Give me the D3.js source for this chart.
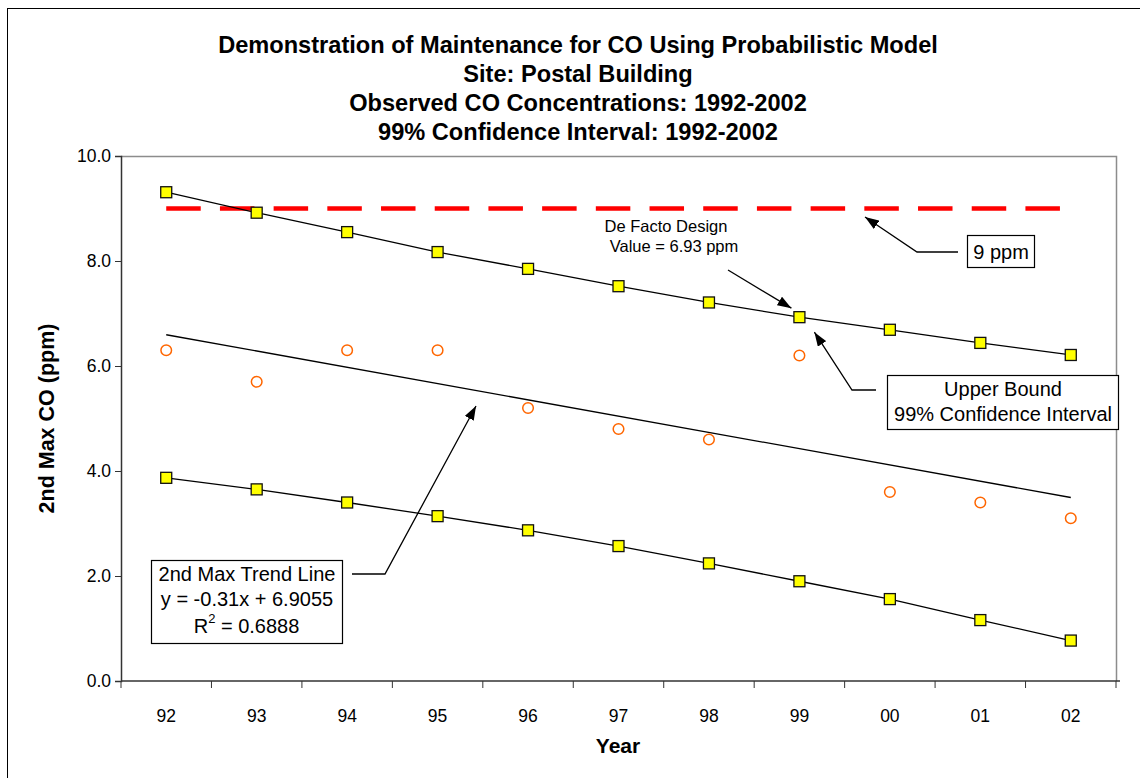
<!DOCTYPE html>
<html>
<head>
<meta charset="utf-8">
<script src="https://cdn.jsdelivr.net/npm/d3@7"></script>
<style>
  html, body { margin: 0; padding: 0; background: #fff; }
  svg { display: block; font-family: "Liberation Sans", Arial, sans-serif; }
</style>
</head>
<body>
<svg id="chart" width="1140" height="778"></svg>
<script>
// ---- data ----
const years = ["92", "93", "94", "95", "96", "97", "98", "99", "00", "01", "02"];
const observed = [6.3, 5.7, 6.3, 6.3, 5.2, 4.8, 4.6, 6.2, 3.6, 3.4, 3.1];
const upperBound = [9.31, 8.92, 8.55, 8.17, 7.85, 7.52, 7.21, 6.93, 6.69, 6.44, 6.21];
const lowerBound = [3.87, 3.65, 3.40, 3.14, 2.87, 2.57, 2.24, 1.90, 1.56, 1.16, 0.77];
const standardLevel = [9, 9];            // 9 ppm NAAQS, first and last year
const trendCoef = [-0.31, 6.9055];       // slope, intercept (x = 1..11)
const yTicks = [0, 2, 4, 6, 8, 10];
const titleLines = [
  "Demonstration of Maintenance for CO Using Probabilistic Model",
  "Site: Postal Building",
  "Observed CO Concentrations: 1992-2002",
  "99% Confidence Interval: 1992-2002"
];

// ---- layout ----
const svg = d3.select("#chart");
const L = 121, R = 1116, T = 156, B = 681;
const x = d3.scaleBand().domain(years).range([L, R]);
const bw = x.bandwidth();
const cx = d => x(d) + bw / 2;
const y = d3.scaleLinear().domain([0, 10]).range([B, T]);

// outer chart border (extends beyond picture)
svg.append("rect").attr("x", 7.5).attr("y", 8.5).attr("width", 1200).attr("height", 900)
  .attr("fill", "none").attr("stroke", "#000").attr("stroke-width", 1);

// arrow marker
const defs = svg.append("defs");
defs.append("marker").attr("id", "arrow").attr("viewBox", "0 0 14 10")
  .attr("refX", 14).attr("refY", 5).attr("markerWidth", 14).attr("markerHeight", 10)
  .attr("markerUnits", "userSpaceOnUse").attr("orient", "auto")
  .append("path").attr("d", "M0,0 L14,5 L0,10 Z").attr("fill", "#000");

// title
svg.append("g").selectAll("text").data(titleLines).join("text")
  .attr("x", 578).attr("y", (d, i) => 45 + i * 29)
  .attr("text-anchor", "middle").attr("dominant-baseline", "central")
  .attr("font-weight", "bold").attr("font-size", 23.6).attr("fill", "#000")
  .text(d => d);

// plot border (top/right gray)
svg.append("path").attr("d", `M${L},${T + 0.5}H${R + 0.5}V${B}`)
  .attr("fill", "none").attr("stroke", "#8c8c8c").attr("stroke-width", 1.5);

// y axis
const yAxis = svg.append("g").attr("transform", `translate(${L},0)`)
  .call(d3.axisLeft(y).tickValues(yTicks).tickFormat(d3.format(".1f")).tickSize(6).tickPadding(4));
yAxis.select(".domain").attr("stroke", "#333").attr("stroke-width", 1.5);
yAxis.selectAll(".tick line").attr("stroke", "#333");
yAxis.selectAll("text").attr("font-size", 17.5).attr("fill", "#000")
  .attr("font-family", "Liberation Sans, Arial, sans-serif");

// x axis
const xAxis = svg.append("g").attr("transform", `translate(0,${B})`)
  .call(d3.axisBottom(x).tickSize(0).tickPadding(29));
xAxis.select(".domain").remove();
xAxis.selectAll("text").attr("font-size", 17.5).attr("fill", "#000")
  .attr("font-family", "Liberation Sans, Arial, sans-serif");
svg.append("line").attr("x1", L).attr("x2", R + 4).attr("y1", B).attr("y2", B)
  .attr("stroke", "#333").attr("stroke-width", 1.5);
svg.append("g").selectAll("line").data(years.concat(["end"])).join("line")
  .attr("x1", d => d === "end" ? R : x(d)).attr("x2", d => d === "end" ? R : x(d))
  .attr("y1", B).attr("y2", B + 7).attr("stroke", "#333").attr("stroke-width", 1);

// axis titles
svg.append("text").attr("x", 618).attr("y", 745).attr("text-anchor", "middle")
  .attr("dominant-baseline", "central").attr("font-weight", "bold").attr("font-size", 21)
  .text("Year");
svg.append("text").attr("transform", `translate(47,${(T + B) / 2}) rotate(-90)`)
  .attr("text-anchor", "middle").attr("dominant-baseline", "central")
  .attr("font-weight", "bold").attr("font-size", 21.5).text("2nd Max CO (ppm)");

// 9 ppm dashed line
svg.append("line")
  .attr("x1", cx(years[0])).attr("x2", cx(years[years.length - 1]))
  .attr("y1", y(standardLevel[0])).attr("y2", y(standardLevel[1]))
  .attr("stroke", "#ff0000").attr("stroke-width", 4.5).attr("stroke-dasharray", "34.5,19.2");

// lines
const line = d3.line().x((d, i) => cx(years[i])).y(d => y(d));
svg.append("path").datum(upperBound).attr("d", line).attr("fill", "none")
  .attr("stroke", "#000").attr("stroke-width", 1.3);
svg.append("path").datum(lowerBound).attr("d", line).attr("fill", "none")
  .attr("stroke", "#000").attr("stroke-width", 1.3);
const trendVals = years.map((d, i) => trendCoef[0] * (i + 1) + trendCoef[1]);
svg.append("line")
  .attr("x1", cx(years[0])).attr("y1", y(trendVals[0]))
  .attr("x2", cx(years[years.length - 1])).attr("y2", y(trendVals[trendVals.length - 1]))
  .attr("stroke", "#000").attr("stroke-width", 1.3);

// observed circles
svg.append("g").selectAll("circle").data(observed).join("circle")
  .attr("cx", (d, i) => cx(years[i])).attr("cy", d => y(d)).attr("r", 5.3)
  .attr("fill", "none").attr("stroke", "#ff6600").attr("stroke-width", 1.5);

// squares
const sq = 11;
[upperBound, lowerBound].forEach(arr => {
  svg.append("g").selectAll("rect").data(arr).join("rect")
    .attr("x", (d, i) => cx(years[i]) - sq / 2).attr("y", d => y(d) - sq / 2)
    .attr("width", sq).attr("height", sq)
    .attr("fill", "#ffff00").attr("stroke", "#111").attr("stroke-width", 1.3);
});

// ---- annotations ----
function arrow(points) {
  svg.append("path").attr("d", d3.line()(points)).attr("fill", "none")
    .attr("stroke", "#000").attr("stroke-width", 1.3).attr("marker-end", "url(#arrow)");
}
function box(x0, y0, w, h, lines, lineY, fs) {
  svg.append("rect").attr("x", x0 + 0.5).attr("y", y0 + 0.5).attr("width", w).attr("height", h)
    .attr("fill", "#fff").attr("stroke", "#000").attr("stroke-width", 1.2);
  lines.forEach((t, i) => {
    svg.append("text").attr("x", x0 + w / 2 + 0.5).attr("y", lineY[i])
      .attr("text-anchor", "middle").attr("dominant-baseline", "central")
      .attr("font-size", fs).attr("fill", "#000").text(t);
  });
}

// 9 ppm
arrow([[958, 252], [917, 252], [865, 217]]);
box(967, 235, 67, 32, ["9 ppm"], [252], 20);

// De Facto Design value
svg.append("text").attr("x", 666).attr("y", 226).attr("text-anchor", "middle")
  .attr("dominant-baseline", "central").attr("font-size", 16.5).text("De Facto Design");
svg.append("text").attr("x", 674).attr("y", 246).attr("text-anchor", "middle")
  .attr("dominant-baseline", "central").attr("font-size", 16.5).text("Value = 6.93 ppm");
arrow([[728, 270], [cx("99") - 8, y(upperBound[7]) - 9]]);

// Upper bound
arrow([[876, 390], [852, 390], [cx("99") + 15, y(upperBound[7]) + 15]]);
box(887, 375, 231, 54, ["Upper Bound", "99% Confidence Interval"], [389, 414], 20);

// Trend line
arrow([[352, 574], [385, 574], [476, 406]]);
box(151, 560, 191, 83, ["2nd Max Trend Line", "y = -0.31x + 6.9055"], [574, 599], 20);
const r2 = svg.append("text").attr("x", 246.5).attr("y", 626).attr("text-anchor", "middle")
  .attr("dominant-baseline", "central").attr("font-size", 20);
r2.append("tspan").text("R");
r2.append("tspan").attr("font-size", 13).attr("dy", -8).text("2");
r2.append("tspan").attr("dy", 8).text(" = 0.6888");
</script>
</body>
</html>
